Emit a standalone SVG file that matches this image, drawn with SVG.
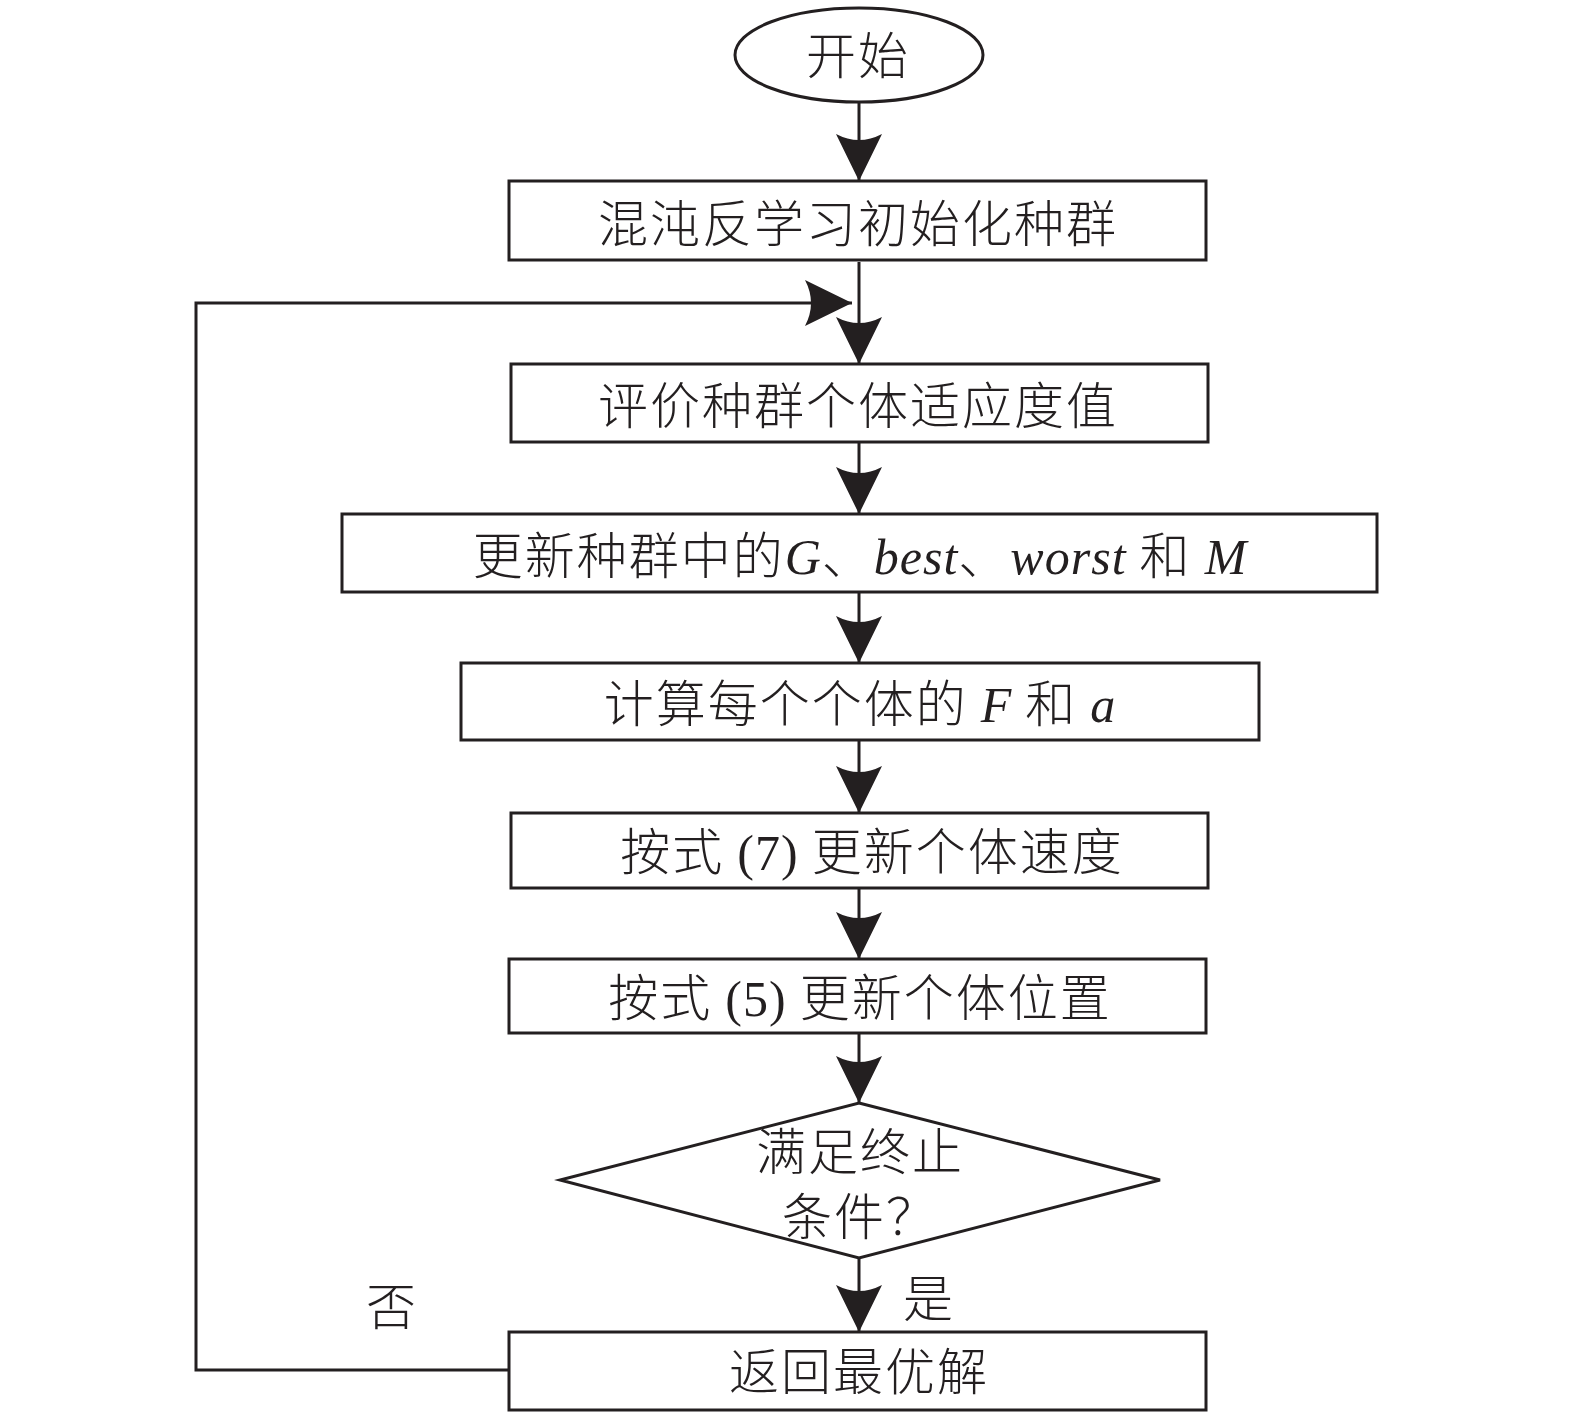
<svg xmlns="http://www.w3.org/2000/svg" width="1575" height="1417" viewBox="0 0 1575 1417">
<style>
.box{fill:#fff;stroke:#231f20;stroke-width:3}
.ln{fill:none;stroke:#231f20;stroke-width:3}
.t{font-family:"Liberation Serif","Noto Sans CJK SC",serif;font-size:50px;fill:#231f20;text-anchor:middle}
.cj{font-family:"Noto Sans CJK SC",sans-serif;font-weight:300;letter-spacing:2px}
.it{font-family:"Liberation Serif",serif;font-style:italic;letter-spacing:1px}
.rm{font-family:"Liberation Serif",serif;letter-spacing:1px}
</style>
<defs>
<marker id="ah" viewBox="0 0 47 46" refX="47" refY="23" markerWidth="47" markerHeight="46" markerUnits="userSpaceOnUse" orient="auto">
<path d="M47,23 L0,0 Q12,23 0,46 Z" fill="#231f20"/>
</marker>
</defs>
<g id="connectors">
<line class="ln" x1="859" y1="102" x2="859" y2="181" marker-end="url(#ah)"/>
<line class="ln" x1="859" y1="262" x2="859" y2="364" marker-end="url(#ah)"/>
<line class="ln" x1="859" y1="442" x2="859" y2="514" marker-end="url(#ah)"/>
<line class="ln" x1="859" y1="592" x2="859" y2="663" marker-end="url(#ah)"/>
<line class="ln" x1="859" y1="740" x2="859" y2="813" marker-end="url(#ah)"/>
<line class="ln" x1="859" y1="888" x2="859" y2="959" marker-end="url(#ah)"/>
<line class="ln" x1="859" y1="1033" x2="859" y2="1103" marker-end="url(#ah)"/>
<line class="ln" x1="859" y1="1258" x2="859" y2="1332" marker-end="url(#ah)"/>
<path class="ln" d="M509,1370 H196 V303 H852" marker-end="url(#ah)"/>
<text class="t cj" x="929" y="1317">是</text>
<text class="t cj" x="392" y="1325">否</text>
</g>
<g id="start">
<ellipse class="box" cx="859" cy="55" rx="124" ry="47"/>
<text class="t cj" x="858" y="74">开始</text>
</g>
<g id="init">
<rect class="box" x="509" y="181" width="697" height="79"/>
<text class="t cj" x="858" y="242">混沌反学习初始化种群</text>
</g>
<g id="eval">
<rect class="box" x="511" y="364" width="697" height="78"/>
<text class="t cj" x="858" y="424">评价种群个体适应度值</text>
</g>
<g id="update">
<rect class="box" x="342" y="514" width="1035" height="78"/>
<text class="t" x="860" y="574"><tspan class="cj">更新种群中的</tspan><tspan class="it">G</tspan><tspan class="cj">、</tspan><tspan class="it">best</tspan><tspan class="cj">、</tspan><tspan class="it">worst</tspan><tspan class="cj"> 和 </tspan><tspan class="it">M</tspan></text>
</g>
<g id="calc">
<rect class="box" x="461" y="663" width="798" height="77"/>
<text class="t" x="860" y="722"><tspan class="cj">计算每个个体的 </tspan><tspan class="it">F</tspan><tspan class="cj"> 和 </tspan><tspan class="it">a</tspan></text>
</g>
<g id="velocity">
<rect class="box" x="511" y="813" width="697" height="75"/>
<text class="t" x="872" y="870"><tspan class="cj">按式 </tspan><tspan class="rm">(7)</tspan><tspan class="cj"> 更新个体速度</tspan></text>
</g>
<g id="position">
<rect class="box" x="509" y="959" width="697" height="74"/>
<text class="t" x="860" y="1016"><tspan class="cj">按式 </tspan><tspan class="rm">(5)</tspan><tspan class="cj"> 更新个体位置</tspan></text>
</g>
<g id="decision">
<polygon class="box" points="859,1103 1160,1180 859,1258 560,1180"/>
<text class="t cj" x="860" y="1170">满足终止</text>
<text class="t cj" x="860" y="1235">条件？</text>
</g>
<g id="result">
<rect class="box" x="509" y="1332" width="697" height="78"/>
<text class="t cj" x="859" y="1390">返回最优解</text>
</g>
</svg>
